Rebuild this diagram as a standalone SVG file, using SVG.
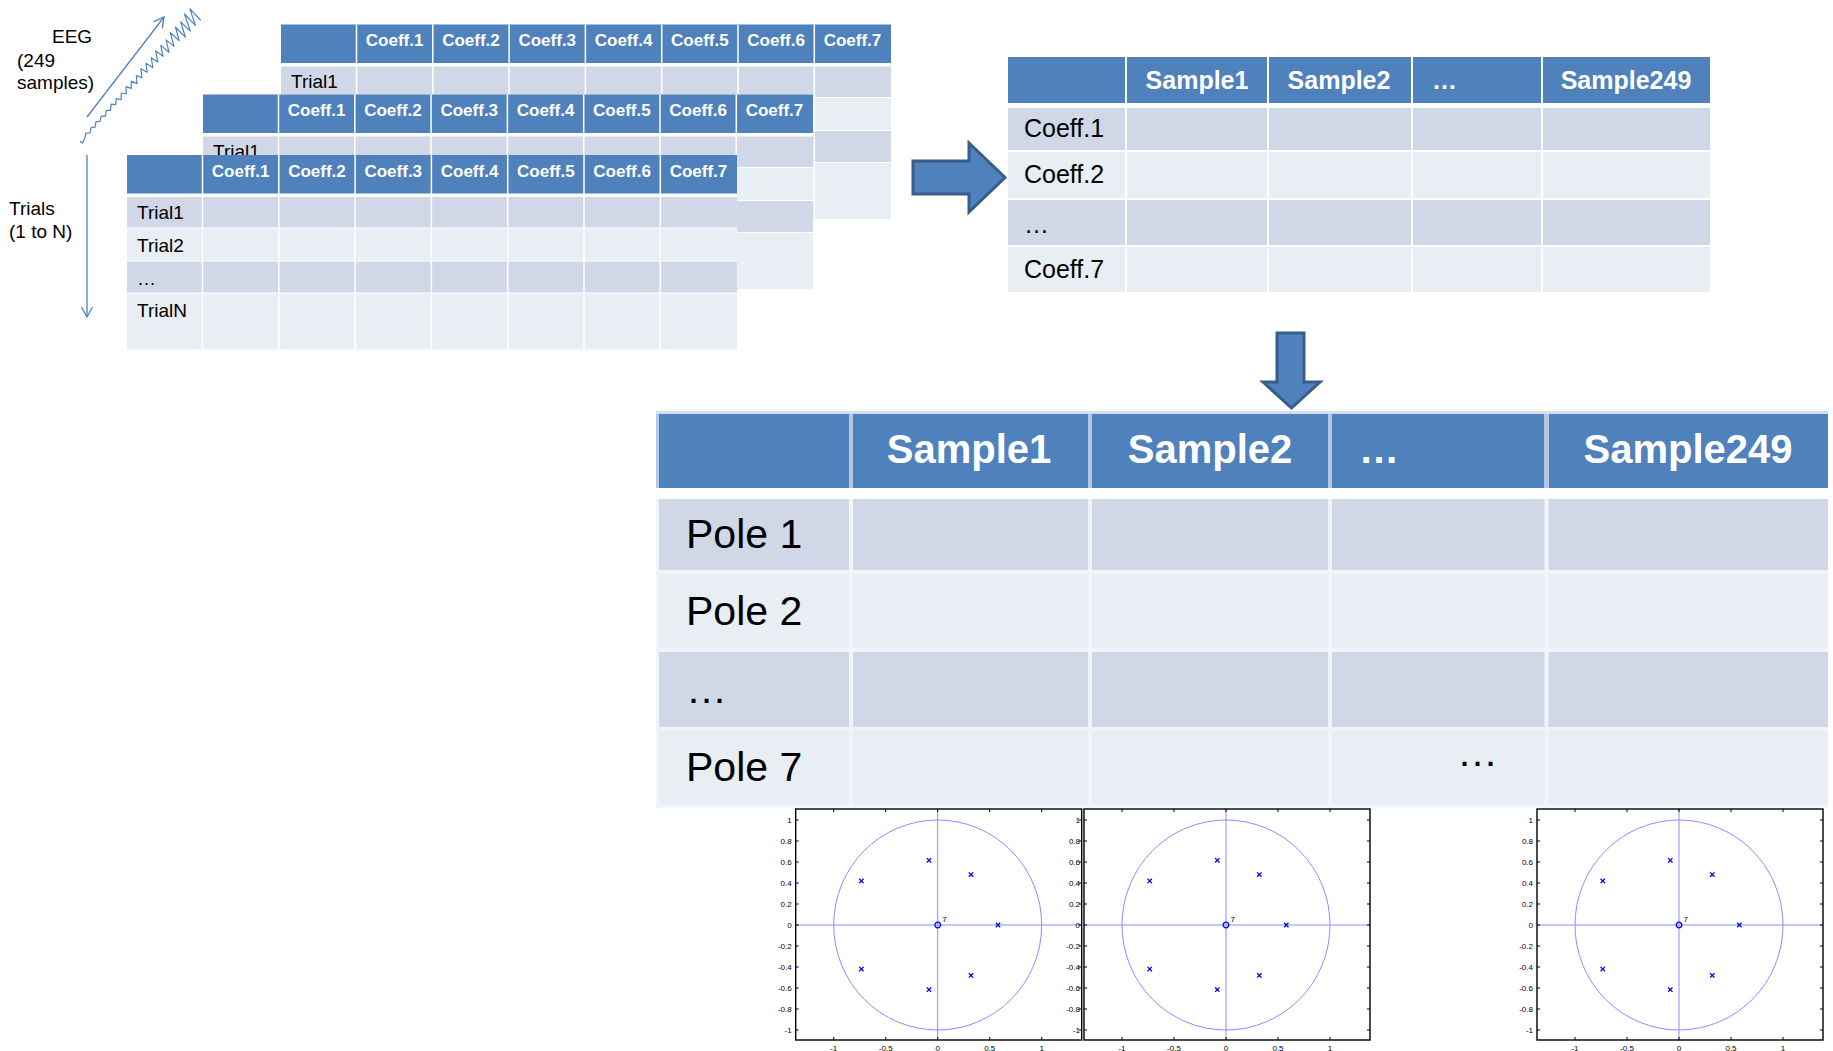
<svg xmlns="http://www.w3.org/2000/svg" xmlns:xlink="http://www.w3.org/1999/xlink" width="1833" height="1051" viewBox="0 0 1833 1051">
  <style>
    text { font-family: "Liberation Sans", Arial, sans-serif; }
    .hd { fill: #4F81BD; }
    .dk { fill: #D0D8E8; }
    .lt { fill: #E9EDF4; }
    .th { font-weight: bold; fill: #FFFFFF; text-anchor: middle; }
    .lab { fill: #000000; }
    .s17 { font-size: 17px; }
    .s19 { font-size: 19px; }
    .s25 { font-size: 25px; }
    .s40 { font-size: 40px; }
    .s41 { font-size: 41px; }
    .blk { fill: #4F81BD; stroke: #385D8A; stroke-width: 3; stroke-linejoin: miter; }
    .guide { fill: none; stroke: #4F81BD; stroke-width: 1.3; }
    .pzline { fill: none; stroke: #8C8CFF; stroke-width: 1; }
    .pzmark { fill: none; stroke: #0000FF; stroke-width: 1.3; }
    .tick { font-size: 8px; fill: #000000; }
  </style>
  <defs>
    <marker id="open-head" markerUnits="userSpaceOnUse" markerWidth="14" markerHeight="14" refX="11" refY="6" orient="auto" overflow="visible">
      <path d="M1 0.5 L11 6 L1 11.5" fill="none" stroke="#4F81BD" stroke-width="1.3"/>
    </marker>

    <!-- cell grid shared by the three stacked trial tables -->
    <g id="trial-grid">
      <rect width="610" height="194.5" fill="#FFFFFF"/>
      <rect class="hd" width="610" height="38.5"/>
      <rect class="dk" y="42" width="610" height="31"/>
      <rect class="lt" y="73" width="610" height="33"/>
      <rect class="dk" y="106" width="610" height="32"/>
      <rect class="lt" y="138" width="610" height="56.5"/>
      <path d="M75.5 0V194.5M151.8 0V194.5M228.1 0V194.5M304.4 0V194.5M380.7 0V194.5M457 0V194.5M533.3 0V194.5" stroke="#FFFFFF" stroke-width="1.5"/>
      <path d="M0 73H610M0 106H610M0 138H610" stroke="#FFFFFF" stroke-width="1"/>
    </g>

    <!-- pole-zero plot, origin at the unit-circle centre -->
    <g id="pz-plot">
      <g class="tick" text-anchor="end">
        <text x="-146" y="-102">1</text>
        <text x="-146" y="-81">0.8</text>
        <text x="-146" y="-60">0.6</text>
        <text x="-146" y="-39">0.4</text>
        <text x="-146" y="-18">0.2</text>
        <text x="-146" y="3">0</text>
        <text x="-146" y="24">-0.2</text>
        <text x="-146" y="45">-0.4</text>
        <text x="-146" y="66">-0.6</text>
        <text x="-146" y="87">-0.8</text>
        <text x="-146" y="108">-1</text>
      </g>
      <g class="tick" text-anchor="middle">
        <text x="-104" y="125.5">-1</text>
        <text x="-52" y="125.5">-0.5</text>
        <text x="0" y="125.5">0</text>
        <text x="52" y="125.5">0.5</text>
        <text x="104" y="125.5">1</text>
      </g>
      <path class="pzline" d="M-142 0H144M0 -116V115"/>
      <ellipse class="pzline" cx="0" cy="0" rx="104" ry="105"/>
      <rect x="-142" y="-116" width="286" height="231" fill="none" stroke="#000000" stroke-width="1.4"/>
      <path fill="none" stroke="#000000" stroke-width="1" d="M-142 -105h3M-142 -84h3M-142 -63h3M-142 -42h3M-142 -21h3M-142 0h3M-142 21h3M-142 42h3M-142 63h3M-142 84h3M-142 105h3M144 -105h-3M144 -84h-3M144 -63h-3M144 -42h-3M144 -21h-3M144 0h-3M144 21h-3M144 42h-3M144 63h-3M144 84h-3M144 105h-3M-104 -116v3M-52 -116v3M0 -116v3M52 -116v3M104 -116v3M-104 115v-3M-52 115v-3M0 115v-3M52 115v-3M104 115v-3"/>
      <path class="pzmark" d="M-78.5 -46.3l4.4 4.4m0 -4.4l-4.4 4.4M-10.9 -66.9l4.4 4.4m0 -4.4l-4.4 4.4M31.1 -52.6l4.4 4.4m0 -4.4l-4.4 4.4M58.1 -2.2l4.4 4.4m0 -4.4l-4.4 4.4M-78.5 41.9l4.4 4.4m0 -4.4l-4.4 4.4M-10.9 62.5l4.4 4.4m0 -4.4l-4.4 4.4M31.1 48.2l4.4 4.4m0 -4.4l-4.4 4.4"/>
      <circle class="pzmark" cx="0" cy="0" r="2.8"/>
      <text x="4.5" y="-3" font-size="8" fill="#000000">7</text>
    </g>
  </defs>

  <!-- EEG signal drawn along the sample axis -->
  <g id="eeg-axis">
    <text class="lab s19" x="52" y="43">EEG</text>
    <text class="lab s19" x="17" y="67">(249</text>
    <text class="lab s19" x="17" y="89">samples)</text>
    <polyline fill="none" stroke="#4F81BD" stroke-width="1.2" stroke-linejoin="round" points="80,141 82.5,143 84.75,138.3 85.98,133.18 90.04,132.97 91.14,127.61 95.04,127.13 96.01,121.55 100.1,121.38 101.18,116 105.46,116.18 106.31,110.4 110.5,110.41 111.1,104.19 115.59,104.72 116.27,98.64 121.08,99.73 121.39,93.02 126.14,93.99 126.06,86.6 131.24,88.32 131.24,81.08 136.88,83.59 136.37,75.47 141.93,77.83 140.89,68.78 147.03,72.18 146.11,63.33 152.86,67.78 151.27,57.76 157.88,61.96 155.58,50.73 162.97,56.29 160.86,45.38 169.03,52.29 166.05,39.87 174,46.39 170.14,32.46 179.07,40.67 175.5,27.24 185.4,37.14 180.74,21.82 190.28,31.08 184.56,13.94 195.3,25.29 190.02,8.9 200.75,20.23"/>
  </g>

  <g id="trial-axis">
    <text class="lab s19" x="9" y="215">Trials</text>
    <text class="lab s19" x="9" y="238">(1 to N)</text>
  </g>

  <!-- stacked trial tables, back to front -->
  <g id="trial-table-3" transform="translate(281,24.5)">
    <use xlink:href="#trial-grid"/>
    <g class="th s17">
      <text x="113.65" y="21.5">Coeff.1</text>
      <text x="189.95" y="21.5">Coeff.2</text>
      <text x="266.25" y="21.5">Coeff.3</text>
      <text x="342.55" y="21.5">Coeff.4</text>
      <text x="418.85" y="21.5">Coeff.5</text>
      <text x="495.15" y="21.5">Coeff.6</text>
      <text x="571.45" y="21.5">Coeff.7</text>
    </g>
    <text class="lab s19" x="10" y="63">Trial1</text>
  </g>

  <g id="trial-table-2" transform="translate(203,94.5)">
    <use xlink:href="#trial-grid"/>
    <g class="th s17">
      <text x="113.65" y="21.5">Coeff.1</text>
      <text x="189.95" y="21.5">Coeff.2</text>
      <text x="266.25" y="21.5">Coeff.3</text>
      <text x="342.55" y="21.5">Coeff.4</text>
      <text x="418.85" y="21.5">Coeff.5</text>
      <text x="495.15" y="21.5">Coeff.6</text>
      <text x="571.45" y="21.5">Coeff.7</text>
    </g>
    <text class="lab s19" x="10" y="63.5">Trial1</text>
  </g>

  <g id="trial-table-1" transform="translate(127,155)">
    <use xlink:href="#trial-grid"/>
    <g class="th s17">
      <text x="113.65" y="21.5">Coeff.1</text>
      <text x="189.95" y="21.5">Coeff.2</text>
      <text x="266.25" y="21.5">Coeff.3</text>
      <text x="342.55" y="21.5">Coeff.4</text>
      <text x="418.85" y="21.5">Coeff.5</text>
      <text x="495.15" y="21.5">Coeff.6</text>
      <text x="571.45" y="21.5">Coeff.7</text>
    </g>
    <g class="lab s19">
      <text x="10" y="64">Trial1</text>
      <text x="10" y="97">Trial2</text>
      <text x="10" y="130">…</text>
      <text x="10" y="162">TrialN</text>
    </g>
  </g>

  <!-- coefficients by sample -->
  <g id="coeff-sample-table">
    <rect class="hd" x="1008" y="57" width="702" height="46"/>
    <rect class="dk" x="1008" y="108" width="702" height="43"/>
    <rect class="lt" x="1008" y="151" width="702" height="48"/>
    <rect class="dk" x="1008" y="199" width="702" height="47"/>
    <rect class="lt" x="1008" y="246" width="702" height="46"/>
    <path d="M1126 57V292M1268 57V292M1412 57V292M1542 57V292" stroke="#FFFFFF" stroke-width="2"/>
    <path d="M1008 151H1710M1008 199H1710M1008 246H1710" stroke="#FFFFFF" stroke-width="2"/>
    <g class="th s25">
      <text x="1197" y="89">Sample1</text>
      <text x="1339" y="89">Sample2</text>
      <text x="1432" y="89" text-anchor="start">…</text>
      <text x="1626" y="89">Sample249</text>
    </g>
    <g class="lab s25">
      <text x="1024" y="137">Coeff.1</text>
      <text x="1024" y="183">Coeff.2</text>
      <text x="1024" y="233">…</text>
      <text x="1024" y="278">Coeff.7</text>
    </g>
  </g>

  <!-- poles by sample -->
  <g id="pole-sample-table">
    <rect x="656" y="411" width="1172" height="77" fill="#B5C7E1"/>
    <rect x="656" y="411" width="1172" height="3" fill="#D3DDEC"/>
    <rect class="hd" x="659" y="414" width="190" height="74"/>
    <rect class="hd" x="853" y="414" width="235" height="74"/>
    <rect class="hd" x="1092" y="414" width="236" height="74"/>
    <rect class="hd" x="1332" y="414" width="212" height="74"/>
    <rect class="hd" x="1549" y="414" width="279" height="74"/>
    <rect x="656" y="499" width="1172" height="309" fill="#F1F4F9"/>
    <rect class="dk" x="659" y="499" width="1169" height="71"/>
    <rect class="lt" x="659" y="574" width="1169" height="74"/>
    <rect class="dk" x="659" y="652" width="1169" height="75"/>
    <rect class="lt" x="659" y="730" width="1169" height="75"/>
    <path d="M851 499V808M1090 499V808M1330 499V808M1546.5 499V808" stroke="#F1F4F9" stroke-width="4"/>
    <g class="th s40">
      <text x="969" y="463">Sample1</text>
      <text x="1210" y="463">Sample2</text>
      <text x="1359" y="463" text-anchor="start">…</text>
      <text x="1688" y="463">Sample249</text>
    </g>
    <g class="lab s41">
      <text x="686" y="548">Pole 1</text>
      <text x="686" y="625">Pole 2</text>
      <text x="686" y="703">…</text>
      <text x="686" y="781">Pole 7</text>
      <text x="1457" y="766">…</text>
    </g>
  </g>

  <!-- pole-zero maps under the sample columns -->
  <g id="pz-sample1" transform="translate(937.7,925)"><use xlink:href="#pz-plot"/></g>
  <g id="pz-sample2" transform="translate(1226,925)"><use xlink:href="#pz-plot"/></g>
  <g id="pz-sample249" transform="translate(1679,925)"><use xlink:href="#pz-plot"/></g>

  <!-- connectors -->
  <g id="connectors">
    <line class="guide" x1="87" y1="117" x2="164" y2="17" marker-end="url(#open-head)"/>
    <line class="guide" x1="87" y1="155" x2="87" y2="317" marker-end="url(#open-head)"/>
    <polygon class="blk" points="913,161 969,161 969,143 1005,177.5 969,212 969,194 913,194"/>
    <polygon class="blk" points="1277,333 1304,333 1304,382 1320,382 1291.5,408 1263,382 1277,382"/>
  </g>
</svg>
